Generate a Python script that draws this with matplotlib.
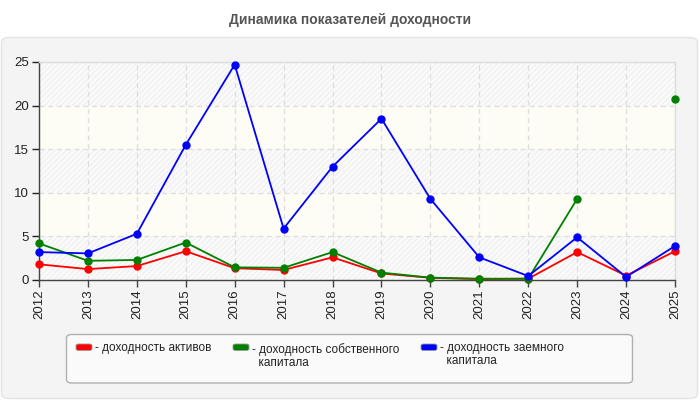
import matplotlib
matplotlib.use("Agg")
import matplotlib.pyplot as plt
from matplotlib.patches import FancyBboxPatch
import numpy as np

plt.rcParams['font.family'] = ['Liberation Sans', 'DejaVu Sans']
plt.rcParams['hatch.color'] = '#e8e8e8'
plt.rcParams['hatch.linewidth'] = 0.7

years = [2012, 2013, 2014, 2015, 2016, 2017, 2018, 2019, 2020, 2021, 2022, 2023, 2024, 2025]
assets = [1.8, 1.25, 1.6, 3.3, 1.35, 1.15, 2.6, 0.75, 0.25, 0.1, 0.15, 3.2, 0.5, 3.3]
equity = [4.2, 2.2, 2.3, 4.3, 1.45, 1.4, 3.2, 0.85, 0.27, 0.15, 0.15, 9.3, np.nan, 20.8]
borrowed = [3.2, 3.05, 5.3, 15.5, 24.7, 5.9, 13.0, 18.5, 9.3, 2.6, 0.45, 4.9, 0.35, 3.9]
labels = ["- доходность активов", "- доходность собственного\n  капитала", "- доходность заемного\n  капитала"]
colors = ["#ff0000", "#008000", "#0000ff"]
title = "Динамика показателей доходности"

W, H = 700, 400
fig = plt.figure(figsize=(7, 4), dpi=100)
fig.patch.set_facecolor('white')

# outer panel
panel = FancyBboxPatch((1.5 / W, 1 - 398.5 / H), 696 / W, 361 / H,
                       boxstyle="round,pad=0,rounding_size=0.012",
                       transform=fig.transFigure, facecolor='#f4f4f4',
                       edgecolor='#e4e4e4', linewidth=1, zorder=-10)
fig.patches.append(panel)

fig.text(350 / W, 1 - 20 / H, title, ha='center', va='center',
         fontsize=10, fontweight='bold', color='#555555')

left, right, top, bottom = 39, 675, 62, 280
ax = fig.add_axes([left / W, 1 - bottom / H, (right - left) / W, (bottom - top) / H])
ax.set_zorder(5)
ax.set_facecolor('#fdfdf6')
ax.set_xlim(years[0], years[-1])
ax.set_ylim(0, 25)

# alternating bands
for i, (lo, hi) in enumerate([(0, 5), (5, 10), (10, 15), (15, 20), (20, 25)]):
    if i % 2 == 0:
        ax.axhspan(lo, hi, facecolor='#fafafa', hatch='//////', edgecolor='#eeeeee',
                   linewidth=0, zorder=0)

ax.grid(True, color='#dddddd', linestyle=(0, (4, 3)), linewidth=0.9, zorder=1)
ax.set_axisbelow(True)

ax.plot(years, assets, color=colors[0], lw=1.3, marker='o', ms=5, zorder=3, clip_on=False)
ax.plot(years, equity, color=colors[1], lw=1.3, marker='o', ms=5, zorder=3, clip_on=False)
ax.plot(years, borrowed, color=colors[2], lw=1.3, marker='o', ms=5, zorder=4, clip_on=False)

ax.set_xticks(years)
ax.set_xticklabels([str(y) for y in years], rotation=90, fontsize=9.5, color='#222222')
ax.set_yticks([0, 5, 10, 15, 20, 25])
ax.tick_params(axis='y', labelsize=9.5, colors='#222222', length=5, width=1, pad=2)
ax.tick_params(axis='x', length=5, width=1, pad=2, colors='#444444', labelcolor='#222222')
for s in ['left', 'bottom']:
    ax.spines[s].set_color('#444444')
    ax.spines[s].set_linewidth(1)
for s in ['top', 'right']:
    ax.spines[s].set_color('#dddddd')
    ax.spines[s].set_linewidth(1)

# legend box
lb = FancyBboxPatch((66.5 / W, 1 - 383 / H), 566 / W, 48.5 / H,
                    boxstyle="round,pad=0,rounding_size=0.008",
                    transform=fig.transFigure, facecolor='#fafafa',
                    edgecolor='#b0b0b0', linewidth=1, zorder=-5)
fig.patches.append(lb)

entries = [(76, 95, 342), (233, 252, 343.5), (421, 440, 342.5)]
for (hx, tx, ty), lab, c in zip(entries, labels, colors):
    h = FancyBboxPatch((hx / W, 1 - 350.5 / H), 16 / W, 6.5 / H,
                       boxstyle="round,pad=0,rounding_size=0.004",
                       transform=fig.transFigure, facecolor=c,
                       edgecolor='#999999', linewidth=0.6, zorder=-4)
    fig.patches.append(h)
    fig.text(tx / W, 1 - ty / H, lab, ha='left', va='top', fontsize=8.5,
             color='#222222', linespacing=1.05)

fig.savefig('out.png', dpi=100, facecolor=fig.get_facecolor())
